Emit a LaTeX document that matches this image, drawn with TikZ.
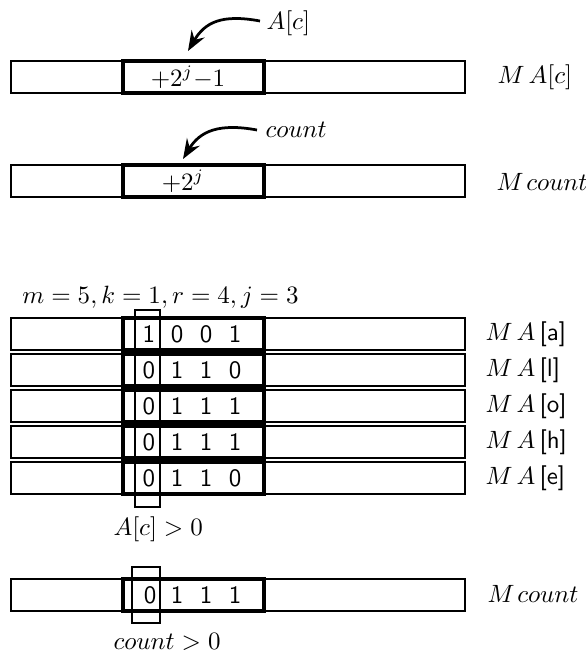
\documentclass[tikz,border=0pt]{standalone}
\usetikzlibrary{arrows.meta}
\begin{document}
\begin{tikzpicture}[x=0.4pt,y=-0.4pt,
  barline/.style={draw, line width=0.5pt},
  thickline/.style={draw, line width=1.3pt},
  colbox/.style={draw, line width=0.5pt},
  mtext/.style={inner sep=0pt, font=\fontsize{10}{12}\selectfont},
  digit/.style={inner sep=0pt, font=\sffamily\fontsize{10}{12}\selectfont},
  ptr/.style={line width=1.1pt, -{Stealth[length=8pt,width=6pt,inset=2.8pt]}}]
\useasboundingbox (0,0) rectangle (586,654);

% ---- M A[c]
\draw[barline] (11,61) rectangle (465,93);
\draw[thickline] (123,61) rectangle (264,93);
\node[mtext] (v1) at (188,77) {$+2^j{-}1$};
\node[mtext, anchor=west] (l1) at (497,77) {$M\,A[c]$};
\node[mtext, anchor=base west] (p1) at (266,29) {$A[c]$};
\coordinate (p1s) at (260,21);
\coordinate (p1e) at (188,51);
\draw[ptr] (p1s) .. controls (222,14) and (205,22) .. (p1e);

% ---- M count
\draw[barline] (11,165) rectangle (465,197);
\draw[thickline] (123,165) rectangle (264,197);
\node[mtext] (v2) at (183,181) {$+2^j$};
\node[mtext, anchor=west] (l2) at (496,182) {$M\mkern2mu count$};
\node[mtext, anchor=base west] (p2) at (265,137) {$count$};
\coordinate (p2s) at (257,130);
\coordinate (p2e) at (183,159);
\draw[ptr] (p2s) .. controls (219,123) and (200,131) .. (p2e);

% ---- parameters
\node[mtext, anchor=west] (par) at (22,297) {$m=5, k=1, r=4, j=3$};

% ---- rows
\foreach \y/\a/\b/\c/\d/\n [count=\i] in
  {318/1/0/0/1/a, 354/0/1/1/0/l, 390/0/1/1/1/o, 426/0/1/1/1/h, 462/0/1/1/0/e} {
  \draw[barline] (11,\y) rectangle (465,\y+32);
  \draw[thickline] (123,\y) rectangle (264,\y+32);
  \node[digit] (r\i a) at (149,\y+16) {\a};
  \node[digit] (r\i b) at (177,\y+16) {\b};
  \node[digit] (r\i c) at (206,\y+16) {\c};
  \node[digit] (r\i d) at (235,\y+16) {\d};
  \node[mtext, anchor=west] (rl\i) at (485,\y+16) {$M\,A\,$\textsf{[\n]}};
}
\draw[colbox] (135,310) rectangle (160,507);
\node[mtext, anchor=base west] (cA) at (113,535) {$A[c]>0$};

% ---- bottom M count
\draw[barline] (11,579) rectangle (465,611);
\draw[thickline] (123,579) rectangle (264,611);
\draw[colbox] (132,567) rectangle (160,623);
\node[digit] (b1) at (150,595) {0};
\node[digit] (b2) at (177,595) {1};
\node[digit] (b3) at (206,595) {1};
\node[digit] (b4) at (235,595) {1};
\node[mtext, anchor=west] (l3) at (487,594) {$M\mkern2mu count$};
\node[mtext, anchor=base west] (cC) at (113,649) {$count>0$};
\end{tikzpicture}
\end{document}
